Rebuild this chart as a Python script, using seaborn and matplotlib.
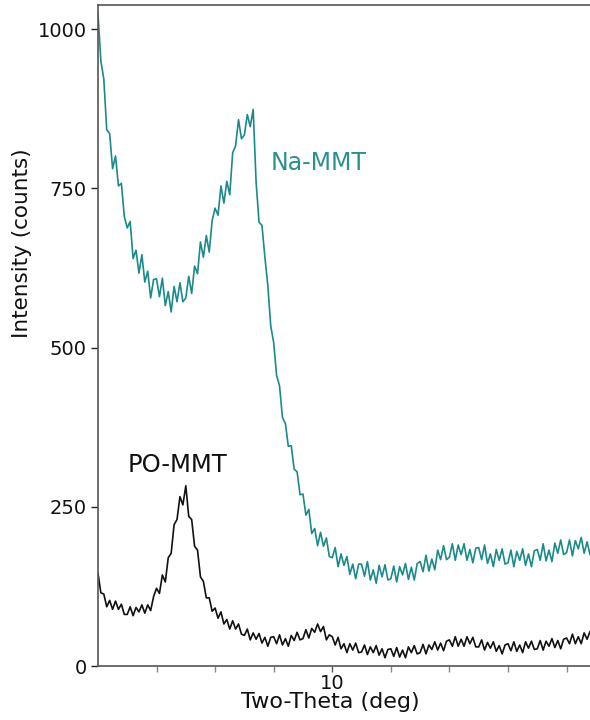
import numpy as np
import pandas as pd
import matplotlib
matplotlib.use("Agg")
import matplotlib.pyplot as plt
import seaborn as sns

# scan grid (two-theta, deg), step 0.05
two_theta = np.round(np.arange(6.0, 14.4001, 0.05), 2)

na_mmt = [
    1025, 950, 922, 842, 836, 781, 801, 754, 758, 706,
    688, 698, 640, 653, 617, 646, 603, 620, 578, 607,
    608, 580, 609, 566, 588, 556, 596, 572, 602, 572,
    578, 612, 585, 628, 616, 666, 642, 676, 650, 700,
    719, 708, 754, 727, 761, 740, 806, 817, 858, 828,
    834, 866, 847, 874, 760, 697, 692, 642, 598, 534,
    508, 456, 440, 390, 381, 345, 346, 309, 305, 269,
    270, 237, 246, 208, 216, 189, 210, 188, 201, 172,
    170, 186, 156, 176, 158, 172, 144, 160, 137, 160,
    160, 141, 164, 135, 151, 130, 158, 140, 159, 135,
    137, 157, 132, 156, 143, 161, 136, 155, 135, 161,
    164, 148, 174, 149, 168, 151, 182, 167, 189, 167,
    171, 192, 166, 190, 175, 192, 166, 183, 162, 185,
    186, 167, 190, 161, 176, 156, 183, 166, 184, 160,
    162, 182, 156, 180, 166, 184, 158, 176, 156, 181,
    183, 166, 192, 165, 182, 164, 193, 177, 198, 175,
    178, 198, 173, 197, 184, 202, 177, 195, 175,
]

po_mmt = [
    146, 115, 113, 93, 103, 89, 102, 89, 97, 81,
    81, 93, 79, 92, 85, 96, 83, 96, 87, 109,
    122, 114, 143, 132, 170, 177, 222, 230, 266, 253,
    283, 235, 230, 188, 182, 140, 133, 107, 107, 86,
    91, 75, 85, 66, 73, 58, 71, 58, 66, 50,
    48, 58, 41, 52, 42, 51, 36, 45, 31, 45,
    46, 35, 49, 33, 43, 31, 48, 40, 53, 41,
    43, 57, 44, 59, 53, 66, 54, 62, 41, 49,
    46, 33, 45, 27, 35, 21, 35, 25, 36, 21,
    22, 33, 18, 30, 21, 32, 17, 27, 13, 26,
    27, 15, 29, 14, 25, 13, 30, 21, 32, 19,
    21, 34, 19, 33, 26, 38, 25, 36, 24, 39,
    41, 31, 46, 31, 42, 31, 46, 35, 45, 30,
    30, 41, 25, 37, 28, 38, 23, 32, 19, 33,
    35, 24, 38, 23, 33, 21, 38, 28, 39, 26,
    27, 40, 25, 39, 31, 43, 29, 40, 27, 42,
    44, 35, 50, 35, 46, 35, 52, 42, 54,
]

sample_names = ["Na-MMT", "PO-MMT"]
colors = {"Na-MMT": "#1b8a8a", "PO-MMT": "#111111"}
y_ticks = [0, 250, 500, 750, 1000]
x_major = [10]
x_minor = [7, 8, 9, 11, 12, 13, 14]

df = pd.concat([
    pd.DataFrame({"two_theta": two_theta, "counts": na_mmt, "sample": "Na-MMT"}),
    pd.DataFrame({"two_theta": two_theta, "counts": po_mmt, "sample": "PO-MMT"}),
])

sns.set_style("ticks")
plt.rcParams["font.family"] = ["DejaVu Sans"]

fig = plt.figure(figsize=(5.9, 7.2), dpi=100)
ax = fig.add_axes([0.166, 0.075, 0.834, 0.918])

sns.lineplot(data=df, x="two_theta", y="counts", hue="sample", palette=colors,
             estimator=None, sort=False, linewidth=1.2, legend=False, ax=ax)

ax.set_xlim(6.0, 14.4)
ax.set_ylim(0, 1038)
ax.set_yticks(y_ticks)
ax.set_yticklabels([str(v) for v in y_ticks])
ax.set_xticks(x_major)
ax.set_xticklabels(["10"])
ax.set_xticks(x_minor, minor=True)

for side in ["left", "bottom", "top"]:
    ax.spines[side].set_visible(True)
    ax.spines[side].set_color("#555555")
    ax.spines[side].set_linewidth(1.2)
ax.spines["right"].set_visible(False)

ax.tick_params(axis="both", which="both", direction="out", length=4, width=1,
               color="#555555", labelsize=14, pad=2, labelcolor="#111111")
ax.tick_params(axis="x", which="minor", length=4, color="#888888")
ax.tick_params(axis="x", which="major", pad=2)
ax.tick_params(axis="y", which="major", length=5, color="#222222", pad=3)
ax.tick_params(top=False, right=False)

ax.set_xlabel("Two-Theta (deg)", fontsize=16, color="#111111")
ax.set_ylabel("Intensity (counts)", fontsize=15.5, color="#111111")
ax.xaxis.set_label_coords(0.472, -0.040)
ax.yaxis.set_label_coords(-0.135, 0.640)

ax.text(8.94, 790, "Na-MMT", color="#2a9090", fontsize=17, va="center", ha="left")
ax.text(6.50, 316, "PO-MMT", color="#111111", fontsize=17.5, va="center", ha="left")

fig.savefig("out.png", dpi=100)
